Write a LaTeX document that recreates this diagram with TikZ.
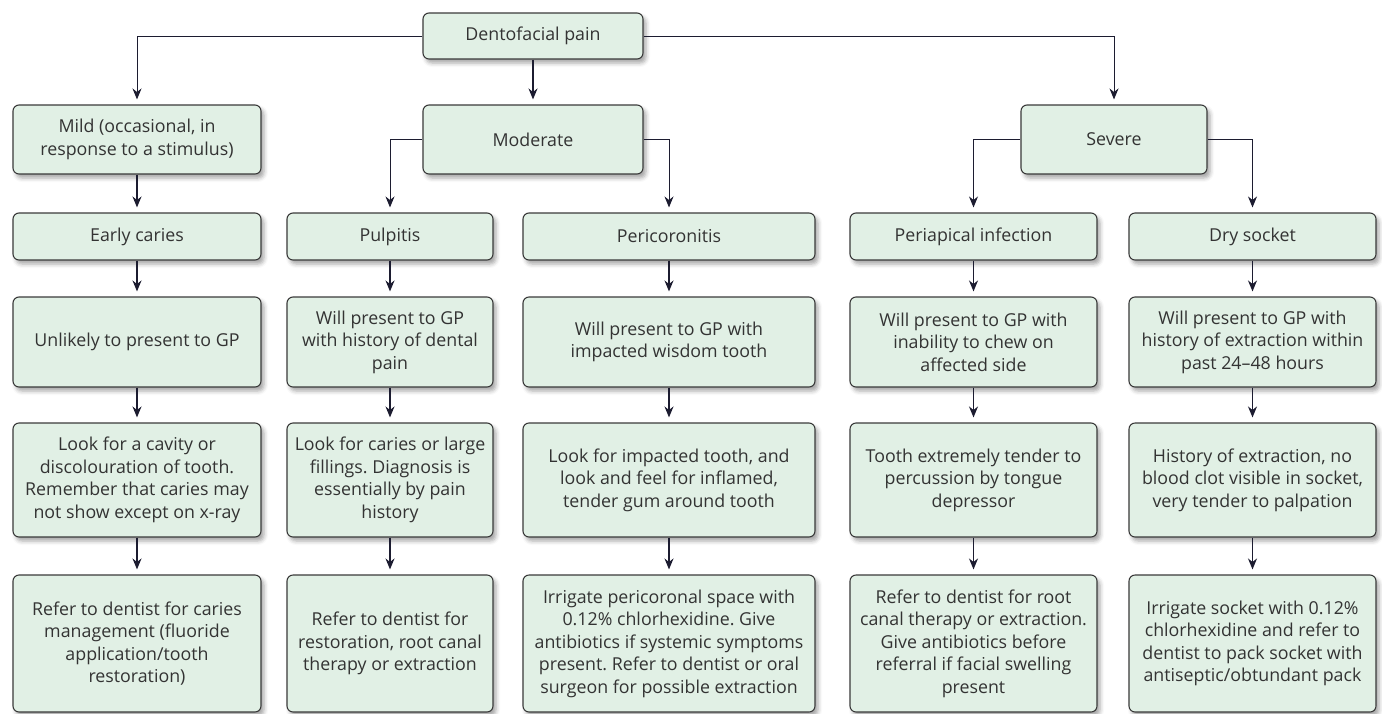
\documentclass[tikz,border=0pt]{standalone}
\usepackage{fontspec}
\setmainfont{Open Sans}
\usetikzlibrary{arrows.meta,shadows.blur}
\definecolor{boxfill}{HTML}{E1F0E5}
\definecolor{boxline}{HTML}{3A3A3A}
\definecolor{linkcol}{HTML}{1C1C30}
\definecolor{txtcol}{HTML}{333333}
\tikzset{
  box/.style={draw=boxline, fill=boxfill, line width=1.1pt, rounded corners=6pt,
    align=center, inner sep=0pt, text=txtcol, font=\fontsize{17.8}{22.5}\selectfont\frenchspacing,
    blur shadow={shadow xshift=3pt, shadow yshift=-4pt, shadow blur radius=4pt, shadow opacity=35}},
  top/.style={box, minimum height=69pt},
  row2/.style={box, minimum height=47pt},
  row3/.style={box, minimum height=90pt},
  row4/.style={box, minimum height=114pt},
  row5/.style={box, minimum height=137pt},
  arr/.style={draw=linkcol, line width=1.5pt, -{Stealth[length=11pt,width=9pt]}, shorten >=5pt},
  elbow/.style={arr, line width=1pt},
}
\begin{document}
\begin{tikzpicture}[x=1pt,y=-1pt]
\useasboundingbox (0,0) rectangle (1382,713);
\node[box, minimum width=220pt, minimum height=46pt] (pain) at (533,36) {Dentofacial pain};
\node[top, minimum width=248pt] (mild) at (137,139.5) {Mild (occasional, in\\response to a stimulus)};
\node[top, minimum width=220pt] (mod) at (533,139.5) {Moderate};
\node[top, minimum width=186pt] (sev) at (1114,139.5) {Severe};

\node[row2, minimum width=248pt] (early) at (137,236.5) {Early caries};
\node[row2, minimum width=206pt] (pulp) at (390,236.5) {Pulpitis};
\node[row2, minimum width=292pt] (peri) at (669,236.5) {Pericoronitis};
\node[row2, minimum width=247pt] (apic) at (973.5,236.5) {Periapical infection};
\node[row2, minimum width=247pt] (dry) at (1252.5,236.5) {Dry socket};

\node[row3, minimum width=248pt] (early-gp) at (137,342) {Unlikely to present to GP};
\node[row3, minimum width=206pt] (pulp-gp) at (390,342) {Will present to GP\\with history of dental\\pain};
\node[row3, minimum width=292pt] (peri-gp) at (669,342) {Will present to GP with\\impacted wisdom tooth};
\node[row3, minimum width=247pt] (apic-gp) at (973.5,342) {Will present to GP with\\inability to chew on\\affected side};
\node[row3, minimum width=247pt] (dry-gp) at (1252.5,342) {Will present to GP with\\history of extraction within\\past 24--48 hours};

\node[row4, minimum width=248pt] (early-look) at (137,480) {Look for a cavity or\\discolouration of tooth.\\Remember that caries may\\not show except on x-ray};
\node[row4, minimum width=206pt] (pulp-look) at (390,480) {Look for caries or large\\fillings. Diagnosis is\\essentially by pain\\history};
\node[row4, minimum width=292pt] (peri-look) at (669,480) {Look for impacted tooth, and\\look and feel for inflamed,\\tender gum around tooth};
\node[row4, minimum width=247pt] (apic-look) at (973.5,480) {Tooth extremely tender to\\percussion by tongue\\depressor};
\node[row4, minimum width=247pt] (dry-look) at (1252.5,480) {History of extraction, no\\blood clot visible in socket,\\very tender to palpation};

\node[row5, minimum width=248pt] (early-ref) at (137,643.5) {Refer to dentist for caries\\management (fluoride\\application/tooth\\restoration)};
\node[row5, minimum width=206pt] (pulp-ref) at (390,643.5) {Refer to dentist for\\restoration, root canal\\therapy or extraction};
\node[row5, minimum width=292pt] (peri-ref) at (669,643.5) {Irrigate pericoronal space with\\0.12\% chlorhexidine. Give\\antibiotics if systemic symptoms\\present. Refer to dentist or oral\\surgeon for possible extraction};
\node[row5, minimum width=247pt] (apic-ref) at (973.5,643.5) {Refer to dentist for root\\canal therapy or extraction.\\Give antibiotics before\\referral if facial swelling\\present};
\node[row5, minimum width=247pt] (dry-ref) at (1252.5,643.5) {Irrigate socket with 0.12\%\\chlorhexidine and refer to\\dentist to pack socket with\\antiseptic/obtundant pack};

\draw[elbow] (pain.west) -| (mild.north);
\draw[elbow] (pain.east) -| (sev.north);
\draw[arr] (pain.south) -- (mod.north);
\draw[arr] (mild.south) -- (early.north);
\draw[elbow] (mod.west) -| (pulp.north);
\draw[elbow] (mod.east) -| (peri.north);
\draw[elbow] (sev.west) -| (apic.north);
\draw[elbow] (sev.east) -| (dry.north);
\foreach \c in {early,pulp,peri,apic,dry} {
  \draw[arr] (\c.south) -- (\c-gp.north);
  \draw[arr] (\c-gp.south) -- (\c-look.north);
  \draw[arr] (\c-look.south) -- (\c-ref.north);
}
\end{tikzpicture}
\end{document}
